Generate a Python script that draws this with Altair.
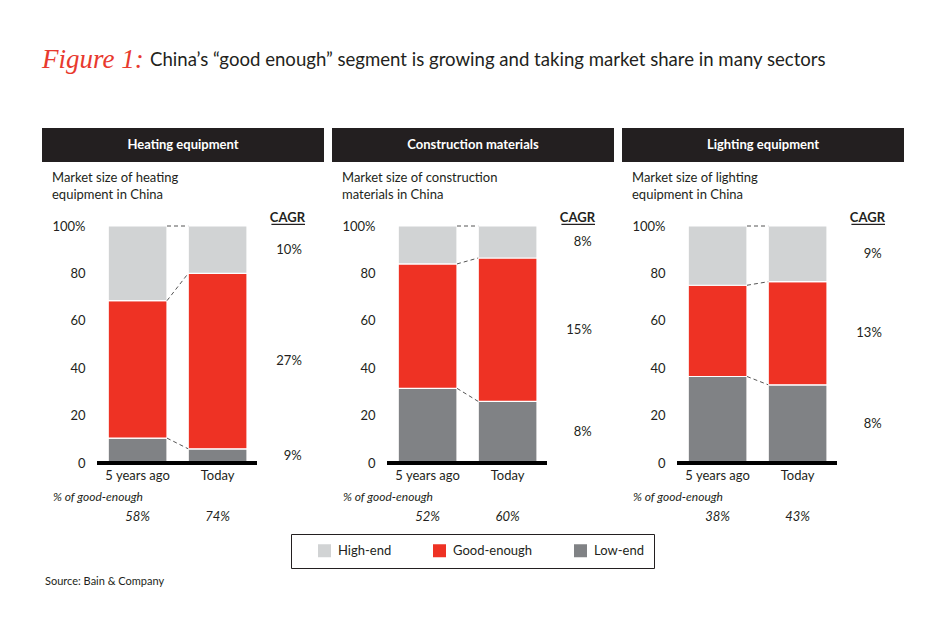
import altair as alt
import pandas as pd

# ---------------- data ----------------
sectors = ["Heating equipment", "Construction materials", "Lighting equipment"]
subtitles = [["Market size of heating", "equipment in China"],
             ["Market size of construction", "materials in China"],
             ["Market size of lighting", "equipment in China"]]
periods = ["5 years ago", "Today"]
segments = ["High-end", "Good-enough", "Low-end"]
seg_colors = ["#d1d3d4", "#ee3224", "#808285"]

low_end = [[10.5, 6.0], [31.5, 26.0], [36.5, 33.0]]
good_enough = [[58.0, 74.0], [52.5, 60.5], [38.5, 43.5]]
high_end = [[31.5, 20.0], [16.0, 13.5], [25.0, 23.5]]
cagr = [["10%", "27%", "9%"], ["8%", "15%", "8%"], ["9%", "13%", "8%"]]  # high, good, low
good_share = [["58%", "74%"], ["52%", "60%"], ["38%", "43%"]]

title_lead = "Figure 1:"
title_text = "China\u2019s \u201cgood enough\u201d segment is growing and taking market share in many sectors"
source_text = "Source: Bain & Company"

# ---------------- layout ----------------
W, H = 160, 237
BAR_START, BAR_END = 0.14, 0.875
FONT = "Lato"
INK = "#231f20"

xscale = alt.Scale(domain=[0, 2], nice=False, zero=False)
yscale = alt.Scale(domain=[0, 100], nice=False, zero=True)
yaxis = alt.Axis(values=[0, 20, 40, 60, 80, 100], labelExpr="datum.value == 100 ? '100%' : datum.label",
                 domain=False, ticks=False, grid=False, labelPadding=12, labelFontSize=13,
                 labelFont=FONT, labelColor=INK, title=None)
legend = alt.Legend(orient="none", legendX=194, legendY=308, direction="horizontal", title=None,
                    symbolType="square", symbolSize=169, symbolStrokeWidth=0, symbolOpacity=1,
                    labelFontSize=13, labelFont=FONT, labelColor=INK, labelOffset=7,
                    columnPadding=24, symbolOffset=17, padding=10, strokeColor=INK, fillColor="white")
one = pd.DataFrame({"k": [0]})


def panel(i):
    rows, links, labels = [], [], []
    tops = []
    for j, p in enumerate(periods):
        lo, ge, he = low_end[i][j], good_enough[i][j], high_end[i][j]
        stack = [("Low-end", 0, lo), ("Good-enough", lo, lo + ge), ("High-end", lo + ge, lo + ge + he)]
        for seg, a, b in stack:
            rows.append(dict(period=p, segment=seg, x0=j + BAR_START, x1=j + BAR_END, y0=a, y1=b))
        tops.append([lo, lo + ge, lo + ge + he])
        labels.append(dict(period=p, xc=j + (BAR_START + BAR_END) / 2, share=good_share[i][j]))
    for k in range(3):
        links.append(dict(xa=BAR_END, xb=1 + BAR_START, ya=tops[0][k], yb=tops[1][k]))
    lo, ge, he = low_end[i][1], good_enough[i][1], high_end[i][1]
    cg = pd.DataFrame(dict(
        txt=cagr[i],
        y=[lo + ge + he / 2, lo + ge / 2, lo / 2],
        x=[2.56] * 3))
    df = pd.DataFrame(rows)
    lab = pd.DataFrame(labels)

    bars = alt.Chart(df).mark_rect(stroke="white", strokeWidth=1.2).encode(
        x=alt.X("x0:Q", scale=xscale, axis=None), x2="x1:Q",
        y=alt.Y("y0:Q", scale=yscale, axis=yaxis), y2="y1:Q",
        color=alt.Color("segment:N", scale=alt.Scale(domain=segments, range=seg_colors), legend=legend))

    conn = alt.Chart(pd.DataFrame(links)).mark_rule(color="#555555", strokeWidth=1, strokeDash=[4, 3]).encode(
        x=alt.X("xa:Q", scale=xscale), x2="xb:Q", y=alt.Y("ya:Q", scale=yscale), y2="yb:Q")

    base = alt.Chart(one).mark_rule(color="black", strokeWidth=4).encode(
        x=alt.datum(0, scale=xscale), x2=alt.datum(2), y=alt.datum(0, scale=yscale))

    cagr_txt = alt.Chart(cg).mark_text(align="right", baseline="middle", fontSize=13, font=FONT, color=INK).encode(
        x=alt.X("x:Q", scale=xscale), y=alt.Y("y:Q", scale=yscale), text="txt:N")
    cagr_head = alt.Chart(one).mark_text(text="CAGR", align="right", baseline="middle", fontSize=13,
                                         fontWeight="bold", font=FONT, color=INK).encode(
        x=alt.datum(2.6, scale=xscale), y=alt.datum(103.4, scale=yscale))
    cagr_line = alt.Chart(one).mark_rule(color=INK, strokeWidth=1.2).encode(
        x=alt.datum(2.18, scale=xscale), x2=alt.datum(2.6), y=alt.datum(100.7, scale=yscale))

    xlab = alt.Chart(lab).mark_text(baseline="middle", fontSize=13, font=FONT, color=INK).encode(
        x=alt.X("xc:Q", scale=xscale), y=alt.value(H + 13), text="period:N")
    pct_head = alt.Chart(one).mark_text(text="% of good-enough", align="left", baseline="middle", fontSize=12,
                                        fontStyle="italic", font=FONT, color=INK).encode(
        x=alt.value(-44), y=alt.value(H + 34))
    pct = alt.Chart(lab).mark_text(baseline="middle", fontSize=13, fontStyle="italic", font=FONT, color=INK).encode(
        x=alt.X("xc:Q", scale=xscale), y=alt.value(H + 54), text="share:N")

    head_rect = alt.Chart(one).mark_rect(color=INK).encode(
        x=alt.value(-55), x2=alt.value(227), y=alt.value(-98), y2=alt.value(-64))
    head_txt = alt.Chart(one).mark_text(text=sectors[i], baseline="middle", fontSize=13, fontWeight="bold",
                                        font=FONT, color="white").encode(
        x=alt.value(86), y=alt.value(-81))
    sub = alt.Chart(one).mark_text(text=subtitles[i], align="left", baseline="middle", fontSize=13,
                                   lineHeight=17, font=FONT, color=INK).encode(
        x=alt.value(-45), y=alt.value(-48))

    layers = [head_rect, head_txt, sub, bars, conn, base, cagr_txt, cagr_head, cagr_line, xlab, pct_head, pct]
    if i == 0:
        layers += [
            alt.Chart(one).mark_text(text=title_lead, align="left", baseline="middle", fontSize=27,
                                     fontStyle="italic", font="Liberation Serif", color="#e8392e").encode(
                x=alt.value(-55), y=alt.value(-166)),
            alt.Chart(one).mark_text(text=title_text, align="left", baseline="middle", fontSize=18.6,
                                     font=FONT, color=INK).encode(
                x=alt.value(53), y=alt.value(-166)),
            alt.Chart(one).mark_text(text=source_text, align="left", baseline="middle", fontSize=11,
                                     font=FONT, color=INK).encode(
                x=alt.value(-52), y=alt.value(356)),
        ]
    return alt.layer(*layers).properties(width=W, height=H)


chart = alt.hconcat(panel(0), panel(1), panel(2), spacing=130, bounds="flush").properties(
    padding={"left": 42, "top": 46, "right": 10, "bottom": 10}
).configure_view(stroke=None)

chart.save("out.html", embed_options={"renderer": "svg", "actions": False})
